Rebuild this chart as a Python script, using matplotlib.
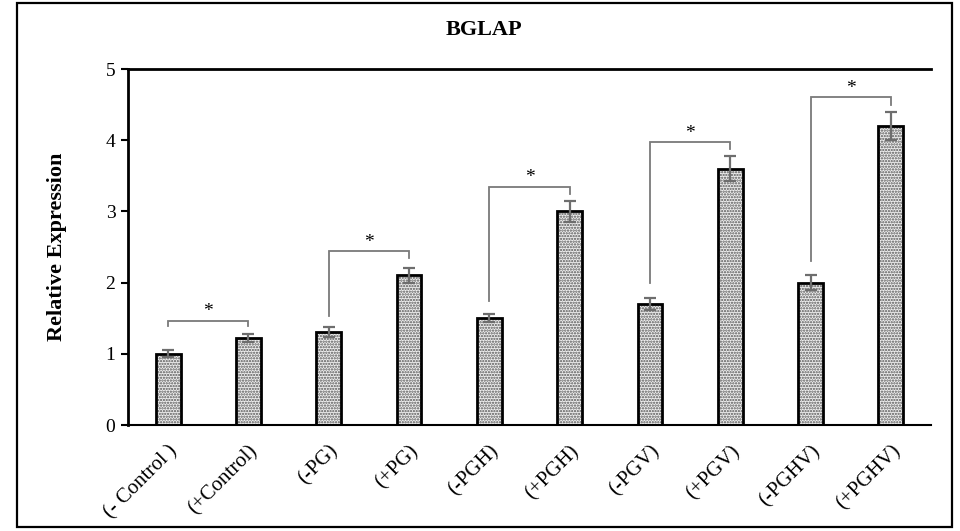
import matplotlib
matplotlib.use("Agg")
import matplotlib.pyplot as plt
from matplotlib.patches import Rectangle
import numpy as np

categories = ["(- Control )", "(+Control)", "(-PG)", "(+PG)", "(-PGH)",
              "(+PGH)", "(-PGV)", "(+PGV)", "(-PGHV)", "(+PGHV)"]
values = [1.0, 1.22, 1.3, 2.1, 1.5, 3.0, 1.7, 3.6, 2.0, 4.2]
errors = [0.05, 0.06, 0.07, 0.1, 0.06, 0.15, 0.08, 0.18, 0.1, 0.2]

# significance brackets: (left bar, right bar, bracket height, left leg end, right leg end)
brackets = [
    (0, 1, 1.46, 1.39, 1.39),
    (2, 3, 2.44, 1.53, 2.34),
    (4, 5, 3.34, 1.74, 3.24),
    (6, 7, 3.97, 2.00, 3.87),
    (8, 9, 4.60, 2.30, 4.50),
]
y_ticks = [0, 1, 2, 3, 4, 5]

plt.rcParams["font.family"] = ["Liberation Serif", "DejaVu Serif"]
plt.rcParams["hatch.linewidth"] = 1.1

fig = plt.figure(figsize=(9.6, 5.31), dpi=100)
ax = fig.add_axes([128 / 960, 1 - 425 / 531, (931 - 128) / 960, (425 - 69) / 531])

# outer frame of the figure
fig.patches.append(Rectangle((17 / 960, 1 - 527 / 531), (952 - 17) / 960, (527 - 3) / 531,
                             transform=fig.transFigure, fill=False,
                             edgecolor="black", linewidth=1.6))

x = np.arange(len(categories))
w = 0.31
# stippled fill
ax.bar(x, values, width=w, facecolor="#eeeeee", edgecolor="#555555",
       hatch="......", linewidth=0, zorder=2)
# solid outline
ax.bar(x, values, width=w, fill=False, edgecolor="black", linewidth=2.0, zorder=3)
ax.errorbar(x, values, yerr=errors, fmt="none", ecolor="#6e6e6e",
            elinewidth=1.6, capsize=4, capthick=1.6, zorder=4)

for i, j, h, yl, yr in brackets:
    ax.plot([x[i], x[i], x[j], x[j]], [yl, h, h, yr], color="#7a7a7a",
            linewidth=1.3, zorder=5, solid_joinstyle="miter")
    ax.text((x[i] + x[j]) / 2, h + 0.01, "*", ha="center", va="bottom",
            fontsize=14, color="black")

ax.set_xlim(-0.5, len(categories) - 0.5)
ax.set_ylim(0, 5)
ax.set_yticks(y_ticks)
ax.set_xticks(x)
ax.set_xticklabels(categories, rotation=45, ha="right", rotation_mode="anchor",
                   fontsize=15)
ax.tick_params(axis="x", length=0, pad=12)
ax.tick_params(axis="y", length=5, width=1.5, labelsize=14, pad=4)

ax.spines["right"].set_visible(False)
ax.spines["left"].set_linewidth(2.0)
ax.spines["bottom"].set_linewidth(1.5)
ax.spines["top"].set_linewidth(2.0)

ax.set_ylabel("Relative Expression", fontsize=16, fontweight="bold", labelpad=28)
fig.text(484 / 960, 1 - 30 / 531, "BGLAP", ha="center", va="center",
         fontsize=16, fontweight="bold")

fig.savefig("out.png", dpi=100)
